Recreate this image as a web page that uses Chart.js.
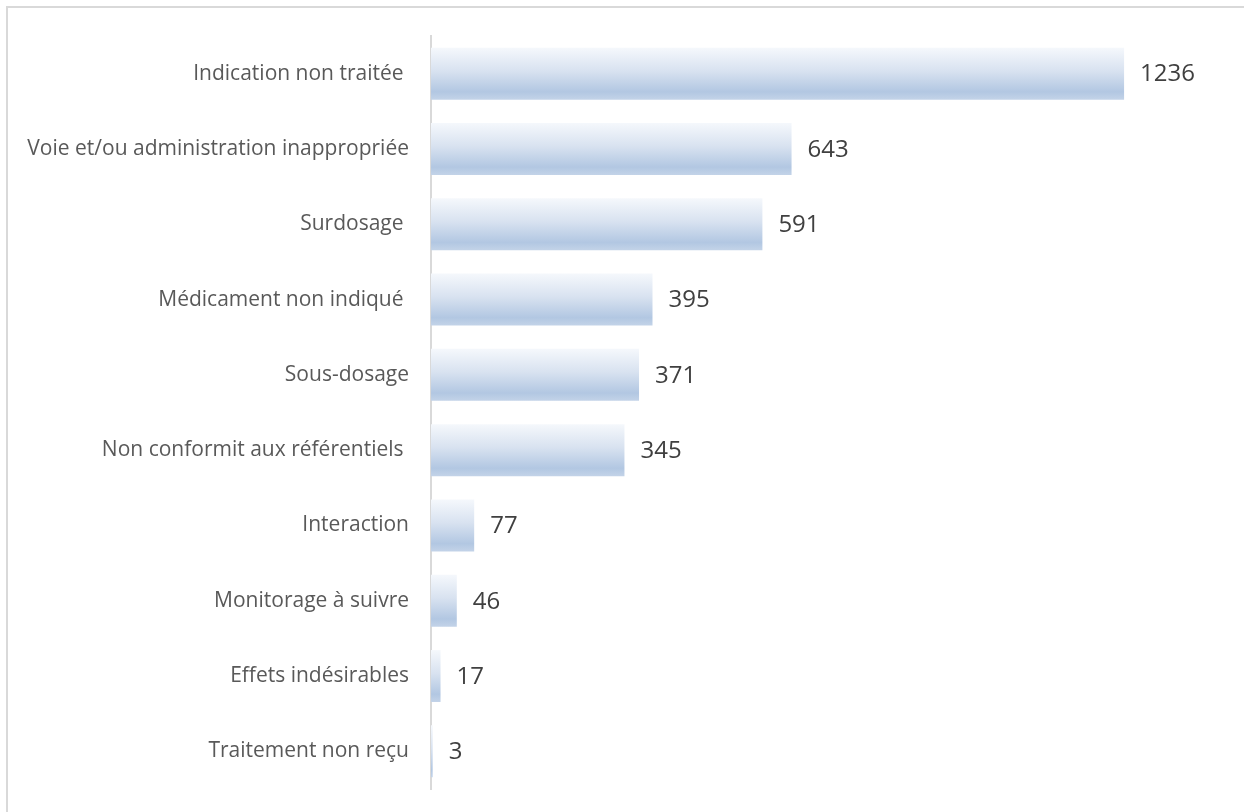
<!DOCTYPE html>
<html>
<head>
<meta charset="utf-8">
<script src="https://cdn.jsdelivr.net/npm/chart.js@4.4.1/dist/chart.umd.min.js"></script>
<style>
  html, body { margin:0; padding:0; background:#fff; overflow:hidden; }
  #frame {
    position:absolute; left:6px; top:6px; width:1260px; height:830px;
    border-left:2px solid #d9d9d9; border-top:2px solid #d9d9d9;
  }
  #chartErreurs { position:absolute; left:0; top:0; }
</style>
</head>
<body>
<div id="frame"></div>
<canvas id="chartErreurs" width="1244" height="812"></canvas>
<script>
const categories = [
    'Indication non traitée ',
    'Voie et/ou administration inappropriée',
    'Surdosage ',
    'Médicament non indiqué ',
    'Sous-dosage',
    'Non conformit aux référentiels ',
    'Interaction',
    'Monitorage à suivre',
    'Effets indésirables',
    'Traitement non reçu'
];
const valeurs = [1236, 643, 591, 395, 371, 345, 77, 46, 17, 3];

const labelFont = '"Open Sans", Lato, sans-serif';

// degrade vertical de chaque barre
function barGradient(context){
    const chart = context.chart;
    const y = chart.scales && chart.scales.y;
    if(!chart.chartArea || !y) return '#c3d3e8';
    const cy = y.getPixelForValue(context.dataIndex);
    const h = 52;
    const g = chart.ctx.createLinearGradient(0, cy - h/2, 0, cy + h/2);
    g.addColorStop(0, '#f5f8fc');
    g.addColorStop(0.45, '#d8e2f0');
    g.addColorStop(0.85, '#b2c7e2');
    g.addColorStop(1, '#c3d3e8');
    return g;
}

const valeurLabels = {
    id:'valeurLabels',
    afterDatasetsDraw(chart){
        const ctx = chart.ctx;
        const meta = chart.getDatasetMeta(0);
        ctx.save();
        ctx.font = '24px ' + labelFont;
        ctx.fillStyle = '#404040';
        ctx.textAlign = 'left';
        ctx.textBaseline = 'middle';
        meta.data.forEach((bar, i)=>{
            ctx.fillText(valeurs[i], bar.x + 16, bar.y + 1);
        });
        ctx.restore();
    }
};

new Chart(document.getElementById('chartErreurs'),{
    type:'bar',
    data:{
        labels:categories,
        datasets:[{
            data:valeurs,
            backgroundColor:barGradient,
            borderWidth:0,
            barPercentage:0.69,
            categoryPercentage:1
        }]
    },
    options:{
        indexAxis:'y',
        responsive:false,
        animation:false,
        layout:{ padding:{ top:36, bottom:23, left:20, right:56 } },
        plugins:{ legend:{display:false}, tooltip:{enabled:false} },
        scales:{
            x:{
                display:false,
                min:0,
                max:1350
            },
            y:{
                afterFit(scale){
                    scale.width = 411;
                    scale.paddingTop = 0;
                    scale.paddingBottom = 0;
                },
                grid:{ display:false, drawTicks:false },
                border:{ display:true, color:'#d9d9d9', width:2 },
                ticks:{
                    padding:22,
                    color:'#595959',
                    font:{ size:21, family:labelFont }
                }
            }
        }
    },
    plugins:[valeurLabels]
});
</script>
</body>
</html>
